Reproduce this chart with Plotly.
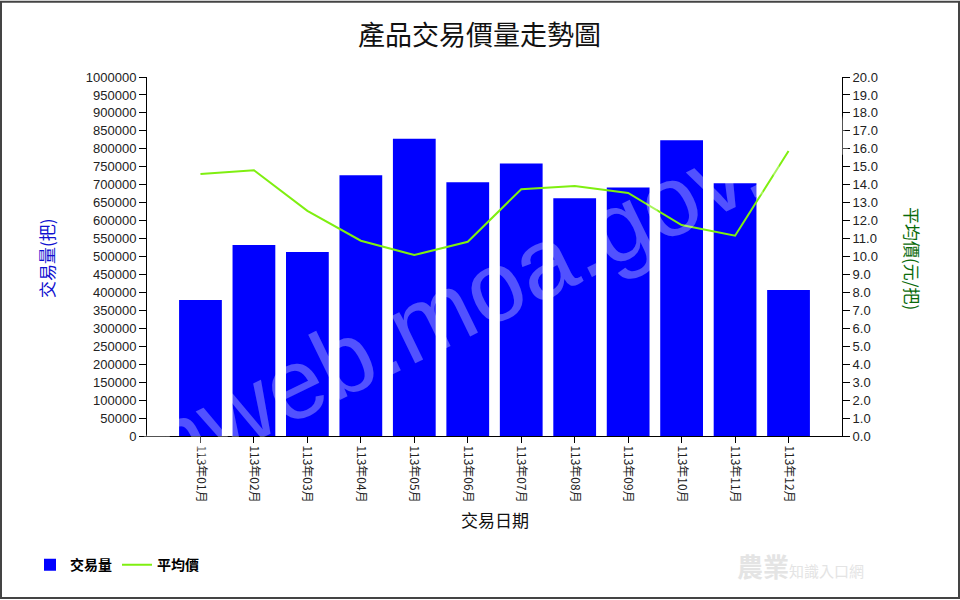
import plotly.graph_objects as go

months = ["113年01月", "113年02月", "113年03月", "113年04月", "113年05月", "113年06月",
          "113年07月", "113年08月", "113年09月", "113年10月", "113年11月", "113年12月"]
volume = [379000, 532000, 512500, 726000, 828000, 707000,
          759000, 662000, 692000, 824000, 704000, 407000]
avg_price = [14.60, 14.81, 12.54, 10.88, 10.08, 10.82,
             13.75, 13.93, 13.54, 11.75, 11.16, 15.88]

W, H = 960, 600
L, R, T, B = 147, 118, 76.5, 163.5
PW, PH = W - L - R, H - T - B

def px(x):
    return (x - L) / PW

def py(y):
    return (H - B - y) / PH

tick_font = dict(family="Arial, Liberation Sans, sans-serif", size=13, color="#222222")

fig = go.Figure()
fig.add_trace(go.Bar(
    x=months, y=volume, name="<b>交易量</b>",
    marker=dict(color="#0000FF", line=dict(width=0)), width=0.8, yaxis="y",
))
fig.add_trace(go.Scatter(
    x=months, y=avg_price, name="<b>平均價</b>", mode="lines",
    line=dict(color="#7FEF10", width=2), yaxis="y2",
))

fig.update_layout(
    width=W, height=H,
    margin=dict(l=L, r=R, t=T, b=B, autoexpand=False),
    paper_bgcolor="white", plot_bgcolor="white",
    showlegend=True,
    legend=dict(orientation="h", x=px(30), y=py(566), xanchor="left", yanchor="middle",
                font=dict(family="Noto Sans CJK TC", size=14, color="#000000"),
                itemwidth=30, bgcolor="rgba(0,0,0,0)"),
    xaxis=dict(
        type="category", range=[-1, 12], showline=True, linecolor="#000000", linewidth=1,
        ticks="outside", ticklen=6, tickcolor="#000000", tickangle=90,
        tickfont=dict(family="Noto Sans CJK TC, Arial", size=12, color="#222222"),
        showgrid=False, zeroline=False, mirror=False,
    ),
    yaxis=dict(
        range=[0, 1000000], dtick=50000, tickformat="d", showline=True,
        linecolor="#000000", linewidth=1, ticks="outside", ticklen=7, tickcolor="#000000",
        tickfont=tick_font, showgrid=False, zeroline=False,
    ),
    yaxis2=dict(
        range=[0, 20], dtick=1, tickformat=".1f", overlaying="y", side="right",
        showline=True, linecolor="#000000", linewidth=1, ticks="outside", ticklen=7,
        tickcolor="#000000", tickfont=tick_font, showgrid=False, zeroline=False,
    ),
    bargap=0.2,
)

def note(text, x, y, size, color, angle=0, family="Noto Sans CJK TC"):
    return dict(text=text, xref="paper", yref="paper", x=px(x), y=py(y),
                xanchor="center", yanchor="middle", textangle=angle, showarrow=False,
                font=dict(family=family, size=size, color=color))

ann = [
    note("產品交易價量走勢圖", 479, 33, 27, "#111111"),
    note("交易日期", 495, 520, 17, "#111111"),
    note("交易量(把)", 47, 258, 17, "#1010D0", angle=-90),
    note("平均價(元/把)", 912, 258, 17, "#0A6A0A", angle=90),
    note("kmweb.moa.gov.tw", 465, 300, 100, "rgba(255,255,255,0.32)", angle=-26,
         family="Arial, Liberation Sans, sans-serif"),
    note("<b>農業</b><span style='font-size:15px'>知識入口網</span>", 800, 566, 26, "#E4E4E4"),
]
fig.update_layout(annotations=ann)

fig.add_shape(type="rect", xref="paper", yref="paper",
              x0=px(1), x1=px(W - 1), y0=py(H - 1), y1=py(1),
              line=dict(color="#444444", width=2), fillcolor="rgba(0,0,0,0)", layer="below")

fig.write_html("out.html", config={"displayModeBar": False},
               post_script="document.body.style.margin='0';")
